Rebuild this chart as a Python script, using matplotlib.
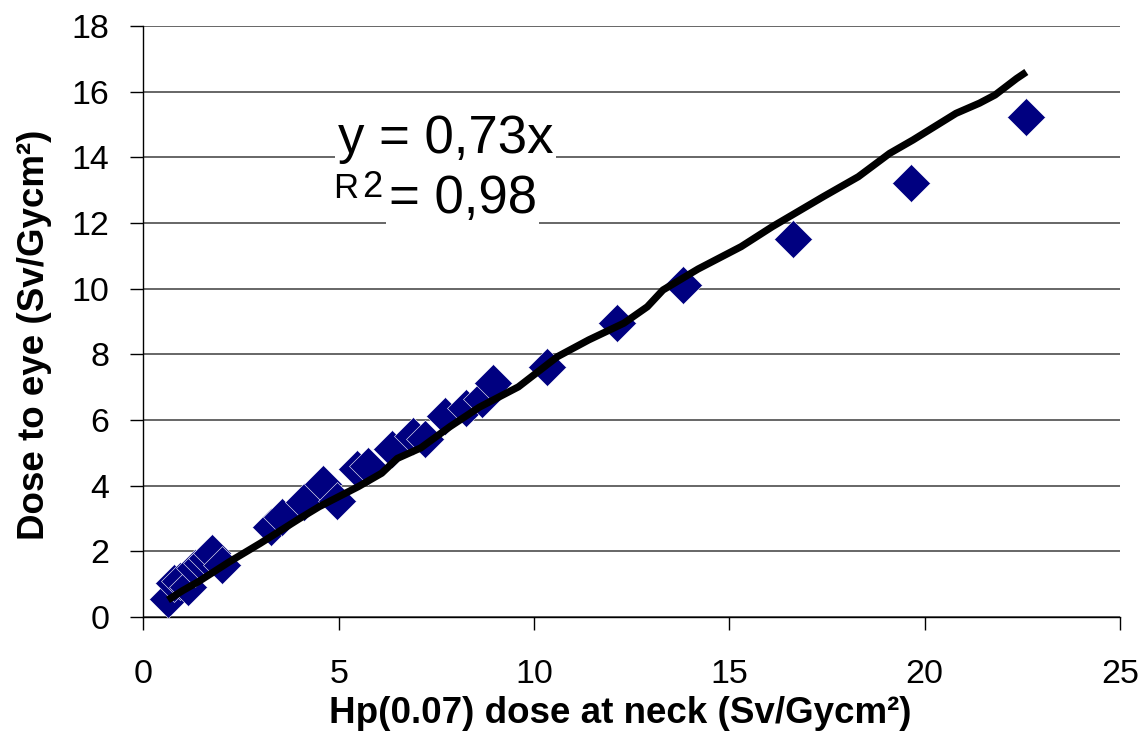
import matplotlib

matplotlib.use("Agg")
import matplotlib.pyplot as plt

plt.rcParams["font.family"] = ["Liberation Sans", "DejaVu Sans"]

# Measured points: Hp(0.07) at neck vs dose to eye
neck_dose = [0.62, 0.79, 0.95, 1.15, 1.33, 1.50, 1.62, 1.75, 2.01,
             3.27, 3.55, 4.12, 4.61, 4.95, 5.46, 5.76, 6.36, 6.91, 7.21,
             7.72, 8.26, 8.66, 8.94, 10.32, 12.12, 13.82, 16.64, 19.64, 22.59]
eye_dose = [0.55, 1.04, 1.10, 0.91, 1.49, 1.65, 1.80, 1.96, 1.58,
            2.73, 3.05, 3.51, 4.04, 3.54, 4.52, 4.60, 5.11, 5.51, 5.42,
            6.12, 6.38, 6.64, 7.14, 7.61, 8.95, 10.11, 11.51, 13.23, 15.24]

# Trend line as drawn in the original (slightly wobbly)
trend_x = [0.63, 1.0, 1.4, 2.2, 3.0, 4.0, 4.5, 5.5, 6.1, 6.5, 7.1, 7.85, 8.6,
           9.6, 10.6, 11.4, 12.3, 12.9, 13.3, 14.2, 15.3, 16.1, 17.4, 18.3,
           19.1, 19.7, 20.8, 21.4, 21.8, 22.35, 22.6]
trend_y = [0.52, 0.80, 1.07, 1.68, 2.25, 3.0, 3.36, 3.97, 4.38, 4.83, 5.15,
           5.8, 6.39, 7.01, 7.93, 8.44, 8.95, 9.45, 9.96, 10.6, 11.28, 11.89,
           12.8, 13.41, 14.12, 14.53, 15.34, 15.65, 15.9, 16.4, 16.6]

x_ticks = [0, 5, 10, 15, 20, 25]
y_ticks = [0, 2, 4, 6, 8, 10, 12, 14, 16, 18]

fig = plt.figure(figsize=(11.44, 7.52), dpi=100)
ax = fig.add_axes([0.1253, 0.1795, 0.8538, 0.7859])

ax.set_xlim(0, 25)
ax.set_ylim(0, 18)
ax.set_xticks(x_ticks)
ax.set_yticks(y_ticks)

ax.yaxis.grid(True, color="#4d4d4d", linewidth=1.2)
ax.set_axisbelow(True)
for side in ["top", "right"]:
    ax.spines[side].set_visible(False)
ax.spines["left"].set_linewidth(1.0)
ax.spines["bottom"].set_linewidth(1.0)

ax.plot(neck_dose, eye_dose, "D", color="#000080", markersize=19,
        markeredgecolor="white", markeredgewidth=0.4, zorder=3)
ax.plot(trend_x, trend_y, color="black", linewidth=5.2,
        solid_capstyle="butt", zorder=4)

ax.tick_params(axis="y", direction="out", length=9.4, width=1.0,
               labelsize=24.5, pad=15)
ax.tick_params(axis="x", direction="out", length=9.4, width=1.0,
               labelsize=24.5, pad=21)

ax.set_xlabel("Hp(0.07) dose at neck (Sv/Gycm²)", fontsize=26.5,
              fontweight="bold", va="center")
ax.xaxis.set_label_coords(0.488, -0.163)
ax.set_ylabel("Dose to eye (Sv/Gycm²)", fontsize=26.5,
              fontweight="bold", va="center", ha="center")
ax.yaxis.set_label_coords(-0.111, 0.477)

# regression equation, Excel style
box = dict(facecolor="white", edgecolor="none", pad=2)
ax.text(4.98, 14.13, "y = 0,73x", fontsize=38, va="baseline", ha="left",
        bbox=box, zorder=5)
ax.text(4.85, 12.76, "R", fontsize=25, va="baseline", ha="left", zorder=5)
ax.text(5.6, 12.79, "2", fontsize=26, va="baseline", ha="left", zorder=5)
ax.text(6.28, 12.31, "= 0,98", fontsize=38, va="baseline", ha="left",
        bbox=box, zorder=5)

fig.savefig("out.png", dpi=100)
plt.close(fig)
